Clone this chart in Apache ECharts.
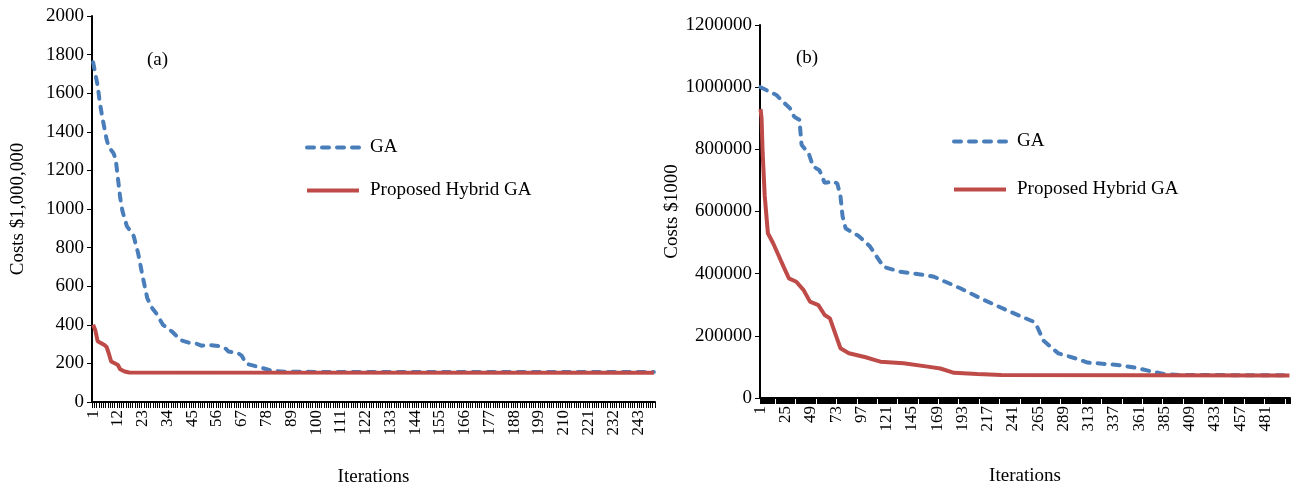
<!DOCTYPE html>
<html>
<head>
<meta charset="utf-8">
<script src="https://cdn.jsdelivr.net/npm/echarts@6/dist/echarts.min.js"></script>
<style>
  html, body { margin: 0; padding: 0; background: #ffffff; }
  #chart { width: 1294px; height: 489px; }
</style>
</head>
<body>
<div id="chart"></div>
<script>
// iteration numbers (x categories)
const iterCountA = 250;
const iterCountB = 504;
const iterationsA = [];
for (let i = 1; i <= iterCountA; i++) iterationsA.push(String(i));
const iterationsB = [];
for (let i = 1; i <= iterCountB; i++) iterationsB.push(String(i));

// (a) breakpoints: iteration / cost
const gaIterA   = [1, 2, 3, 4, 5, 7, 8, 10, 11, 12, 13, 14, 16, 18, 19, 21, 23, 25, 27, 29, 32, 36, 40, 44, 47, 49, 52, 57, 60, 61, 65, 67, 69, 74, 80, 86, 100, 250];
const gaCostA   = [1760, 1700, 1640, 1550, 1480, 1360, 1320, 1290, 1260, 1160, 1060, 990, 910, 880, 860, 770, 650, 540, 490, 460, 400, 365, 320, 306, 302, 292, 296, 290, 275, 262, 255, 240, 198, 183, 163, 157, 156, 155];
const hybIterA  = [1, 2, 3, 6, 7, 8, 9, 11, 12, 13, 15, 17, 250];
const hybCostA  = [400, 370, 315, 295, 285, 250, 210, 198, 192, 170, 158, 153, 152];

// (b) breakpoints
const gaIterB   = [1, 8, 16, 24, 29, 33, 38, 40, 47, 51, 57, 62, 70, 74, 77, 79, 82, 94, 105, 118, 134, 156, 166, 191, 210, 236, 261, 264, 270, 284, 300, 312, 331, 344, 360, 373, 385, 400, 504];
const gaCostB   = [1000000, 988000, 975000, 948000, 932000, 905000, 895000, 815000, 785000, 745000, 733000, 692000, 697000, 690000, 650000, 585000, 545000, 522000, 488000, 422000, 406000, 396000, 390000, 353000, 321000, 281000, 245000, 230000, 185000, 144000, 128000, 114000, 109000, 105000, 96000, 85000, 77000, 74000, 73000];
const hybIterB  = [1, 2, 3, 5, 8, 13, 18, 23, 28, 35, 42, 48, 56, 62, 67, 72, 77, 85, 101, 110, 115, 137, 160, 172, 185, 207, 230, 504];
const hybCostB  = [930000, 900000, 790000, 650000, 530000, 498000, 460000, 422000, 385000, 374000, 347000, 310000, 299000, 267000, 256000, 208000, 160000, 144000, 131000, 122000, 117000, 112000, 101000, 95000, 81000, 77000, 74000, 72000];

const pairs = (its, vals) => its.map((it, k) => [it - 1, vals[k]]);

const FONT = 'Liberation Serif';
const BLUE = '#4a7ebb';
const RED = '#be4b48';

const chart = echarts.init(document.getElementById('chart'));

const xAxisBase = (cats, gi, every, gap) => ({
  type: 'category',
  gridIndex: gi,
  data: cats,
  boundaryGap: true,
  name: 'Iterations',
  nameLocation: 'middle',
  nameGap: gap,
  nameTextStyle: { fontFamily: FONT, fontSize: 19, color: '#000' },
  axisLine: { lineStyle: { color: '#000', width: 2 } },
  axisTick: { show: true, interval: 0, length: 6, lineStyle: { color: '#000', width: 1 } },
  axisLabel: { interval: every, rotate: 90, margin: 8, fontFamily: FONT, fontSize: 17, color: '#000' },
  splitLine: { show: false }
});

const yAxisBase = (gi, max, step, label, gap) => ({
  type: 'value',
  gridIndex: gi,
  min: 0,
  max: max,
  interval: step,
  name: label,
  nameLocation: 'middle',
  nameGap: gap,
  nameTextStyle: { fontFamily: FONT, fontSize: 19, color: '#000' },
  axisLine: { show: true, lineStyle: { color: '#000', width: 2 } },
  axisTick: { show: true, length: 5, lineStyle: { color: '#000', width: 1 } },
  axisLabel: { margin: 8, fontFamily: FONT, fontSize: 19, color: '#000', formatter: v => String(v) },
  splitLine: { show: false }
});

const gaStyle = { color: BLUE, width: 4, type: [7, 8], cap: 'round' };
const hybStyle = { color: RED, width: 4, type: 'solid' };

const legendBase = (left, top, gap) => ({
  orient: 'vertical', left: left, top: top, padding: 0,
  itemWidth: 52, itemHeight: 14, itemGap: gap,
  itemStyle: { opacity: 0 },
  lineStyle: { width: 4 },
  data: ['GA', 'Proposed Hybrid GA'],
  textStyle: { fontFamily: FONT, fontSize: 19, color: '#000', padding: [0, 0, 0, 6] }
});

const option = {
  backgroundColor: '#fff',
  animation: false,
  title: [
    { text: '(a)', left: 142, top: 46, textStyle: { fontFamily: FONT, fontSize: 19, fontWeight: 'normal', color: '#000' } },
    { text: '(b)', left: 791, top: 44, textStyle: { fontFamily: FONT, fontSize: 19, fontWeight: 'normal', color: '#000' } }
  ],
  legend: [
    legendBase(305, 138, 24),
    legendBase(952, 132, 29)
  ],
  grid: [
    { left: 92, right: 639, top: 16, bottom: 87, outerBoundsMode: 'none' },
    { left: 760, right: 4, top: 25, bottom: 91, outerBoundsMode: 'none' }
  ],
  xAxis: [
    xAxisBase(iterationsA, 0, 10, 66),
    xAxisBase(iterationsB, 1, 23, 69)
  ],
  yAxis: [
    yAxisBase(0, 2000, 200, 'Costs $1,000,000', 64),
    yAxisBase(1, 1200000, 200000, 'Costs $1000', 63)
  ],
  series: [
    { name: 'GA', type: 'line', xAxisIndex: 0, yAxisIndex: 0, symbol: 'none', lineStyle: gaStyle, itemStyle: { color: BLUE }, data: pairs(gaIterA, gaCostA), z: 2 },
    { name: 'Proposed Hybrid GA', type: 'line', xAxisIndex: 0, yAxisIndex: 0, symbol: 'none', lineStyle: hybStyle, itemStyle: { color: RED }, data: pairs(hybIterA, hybCostA), z: 3 },
    { name: 'GA', type: 'line', xAxisIndex: 1, yAxisIndex: 1, symbol: 'none', lineStyle: gaStyle, itemStyle: { color: BLUE }, data: pairs(gaIterB, gaCostB), z: 2 },
    { name: 'Proposed Hybrid GA', type: 'line', xAxisIndex: 1, yAxisIndex: 1, symbol: 'none', lineStyle: hybStyle, itemStyle: { color: RED }, data: pairs(hybIterB, hybCostB), z: 3 }
  ]
};

chart.setOption(option);
</script>
</body>
</html>
